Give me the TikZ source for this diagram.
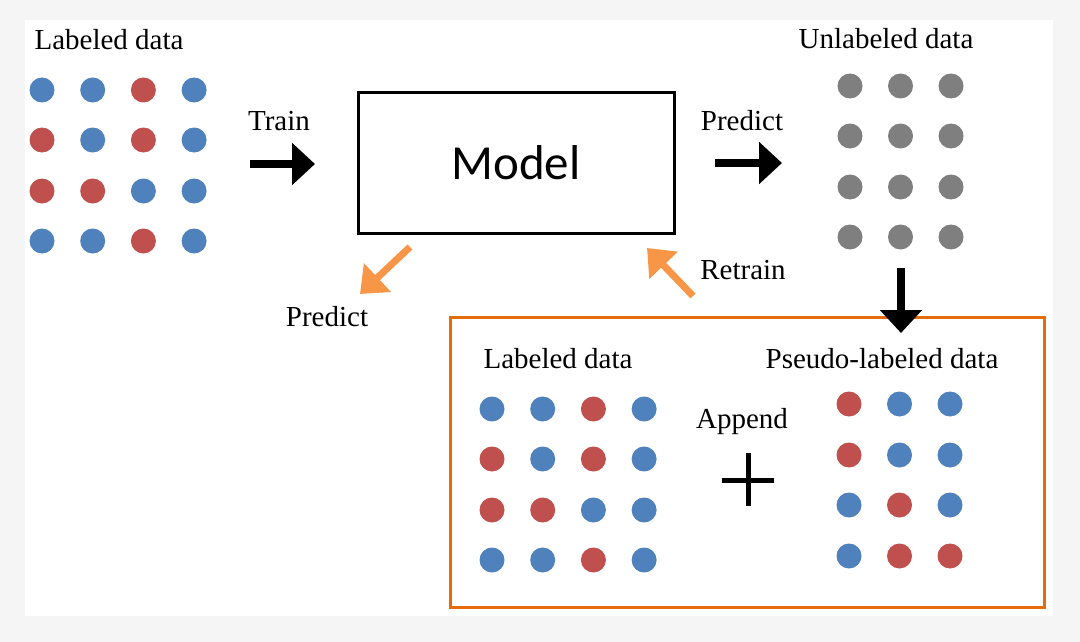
\documentclass[tikz,border=0pt]{standalone}
\usepackage{fontspec}
\setmainfont{Liberation Serif}
\newfontfamily\modelfont{Carlito}
\usetikzlibrary{arrows.meta}
\definecolor{bgray}{HTML}{F5F5F5}
\definecolor{dblue}{HTML}{4F81BD}
\definecolor{dred}{HTML}{C0504D}
\definecolor{dgray}{HTML}{7F7F7F}
\definecolor{lorange}{HTML}{F79646}
\definecolor{borange}{HTML}{E46C0A}
\tikzset{
  lbl/.style={font=\fontsize{29}{34}\selectfont, inner sep=0pt, anchor=base},
  blackarrow/.style={draw=black, line width=8pt, -{Triangle[length=23pt,width=41pt]}},
  orangearrow/.style={draw=lorange, line width=7pt, -{Triangle[length=24pt,width=38pt]}},
  modelbox/.style={draw=black, line width=3pt, minimum width=316pt, minimum height=140pt, inner sep=0pt},
  groupbox/.style={draw=borange, line width=3pt}
}
\begin{document}
\begin{tikzpicture}[x=1pt,y=-1pt]
\useasboundingbox (0,0) rectangle (1080,642);
\fill[bgray] (0,0) rectangle (1080,642);
\fill[white] (25,20) rectangle (1053,616);

% top-left labeled data
\node[lbl] (lab1) at (109,50) {Labeled data};
\foreach \r/\cl in {90/{dblue,dblue,dred,dblue},140/{dred,dblue,dred,dblue},191/{dred,dred,dblue,dblue},241/{dblue,dblue,dred,dblue}}{
  \foreach \c [count=\i from 0] in \cl {\fill[\c] ({42+50.7*\i},\r) circle (12.5);}
}

% model
\node[modelbox] (model) at (516,163) {};
\node[inner sep=0pt, anchor=base, font=\modelfont\fontsize{49}{56}\selectfont] (modeltxt) at (516,179) {Model};

% train arrow
\node[lbl] (train) at (279,131) {Train};
\coordinate (trainS) at (250,164);
\coordinate (trainE) at (315,164);
\draw[blackarrow] (trainS) -- (trainE);

% predict arrow
\node[lbl] (pred1) at (742,130) {Predict};
\coordinate (predS) at (715,163);
\coordinate (predE) at (782,163);
\draw[blackarrow] (predS) -- (predE);

% unlabeled data
\node[lbl] (unl) at (886,49) {Unlabeled data};
\foreach \r in {86,136,187,237}{
  \foreach \i in {0,1,2} {\fill[dgray] ({850+50.5*\i},\r) circle (12.5);}
}

% bottom box
\draw[groupbox] (450,317) rectangle (1044,607);

% down arrow
\coordinate (downS) at (901,268);
\coordinate (downE) at (901,333);
\draw[blackarrow] (downS) -- (downE);

% orange arrows
\coordinate (opS) at (410,247);
\coordinate (opE) at (360,294);
\draw[orangearrow] (opS) -- (opE);
\node[lbl] (pred2) at (327,326) {Predict};

\coordinate (rtS) at (693,296);
\coordinate (rtE) at (647,248);
\draw[orangearrow] (rtS) -- (rtE);
\node[lbl] (retrain) at (743,279) {Retrain};

\node[lbl] (lab2) at (558,368) {Labeled data};
\foreach \r/\cl in {409/{dblue,dblue,dred,dblue},459/{dred,dblue,dred,dblue},510/{dred,dred,dblue,dblue},560/{dblue,dblue,dred,dblue}}{
  \foreach \c [count=\i from 0] in \cl {\fill[\c] ({492+50.7*\i},\r) circle (12.5);}
}
\node[lbl] (pseudo) at (882,368) {Pseudo-labeled data};
\foreach \r/\cl in {404/{dred,dblue,dblue},455/{dred,dblue,dblue},505/{dblue,dred,dblue},556/{dblue,dred,dred}}{
  \foreach \c [count=\i from 0] in \cl {\fill[\c] ({849+50.5*\i},\r) circle (12.5);}
}
\node[lbl] (append) at (742,428) {Append};
\draw[line width=5pt] (722,480) -- (774,480);
\draw[line width=5pt] (748,453) -- (748,506);
\end{tikzpicture}
\end{document}
